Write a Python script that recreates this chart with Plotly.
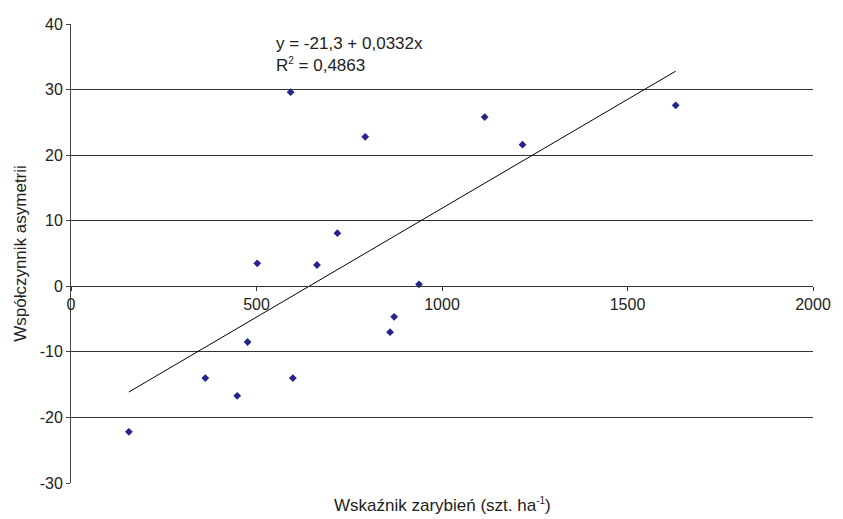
import plotly.graph_objects as go

# Data
stocking = [156, 362, 448, 476, 502, 592, 598, 663, 718, 793, 860, 871, 938, 1115, 1217, 1630]
skewness = [-22.2, -14.0, -16.7, -8.5, 3.5, 29.6, -14.0, 3.25, 8.1, 22.8, -7.0, -4.65, 0.3, 25.8, 21.6, 27.6]
intercept = -21.3
slope = 0.0332
r2_text = "0,4863"
x_ticks = [0, 500, 1000, 1500, 2000]
y_ticks = [-30, -20, -10, 0, 10, 20, 30, 40]

FONT = "Liberation Sans, Arial, sans-serif"

xmin, xmax = min(stocking), max(stocking)
fig = go.Figure()
fig.add_trace(go.Scatter(
    x=stocking, y=skewness, mode="markers",
    marker=dict(symbol="diamond", size=6, color="#24248C"),
    showlegend=False, hoverinfo="x+y"))
fig.add_trace(go.Scatter(
    x=[xmin, xmax], y=[intercept + slope * xmin, intercept + slope * xmax],
    mode="lines", line=dict(color="black", width=1), showlegend=False))

fig.add_annotation(x=546, y=37.1, xref="x", yref="y", xanchor="left", yanchor="middle",
                   text="y = -21,3 + 0,0332x", showarrow=False,
                   font=dict(family=FONT, size=17, color="#222"))
fig.add_annotation(x=546, y=33.8, xref="x", yref="y", xanchor="left", yanchor="middle",
                   text="R<sup><span style='font-size:10px'>2</span></sup> = " + r2_text, showarrow=False,
                   font=dict(family=FONT, size=17, color="#222"))
fig.add_annotation(x=0.5, y=-0.048, xref="paper", yref="paper", xanchor="center", yanchor="middle",
                   text="Wskaźnik zarybień (szt. ha<sup><span style='font-size:10px'>-1</span></sup>)",
                   showarrow=False, font=dict(family=FONT, size=17, color="#222"))

fig.update_layout(
    width=843, height=519,
    margin=dict(l=71, r=28, t=24, b=36),
    paper_bgcolor="white", plot_bgcolor="white",
    font=dict(family=FONT, size=16, color="#222"),
    xaxis=dict(range=[0, 2000], tickvals=x_ticks, ticktext=[str(v) for v in x_ticks],
               anchor="free", position=30 / 70, showline=True, linecolor="#333", linewidth=1,
               ticks="outside", ticklen=4, tickcolor="#333", showgrid=False, zeroline=False,
               tickfont=dict(size=16)),
    yaxis=dict(range=[-30, 40], tickvals=y_ticks, ticktext=[str(v) for v in y_ticks],
               showline=True, linecolor="#444", linewidth=1,
               ticks="outside", ticklen=4, tickcolor="#444",
               showgrid=True, gridcolor="#333", gridwidth=1, zeroline=False,
               tickfont=dict(size=16),
               title=dict(text="Współczynnik asymetrii", standoff=8,
                          font=dict(family=FONT, size=17, color="#222"))),
)
fig.write_html("out.html")
